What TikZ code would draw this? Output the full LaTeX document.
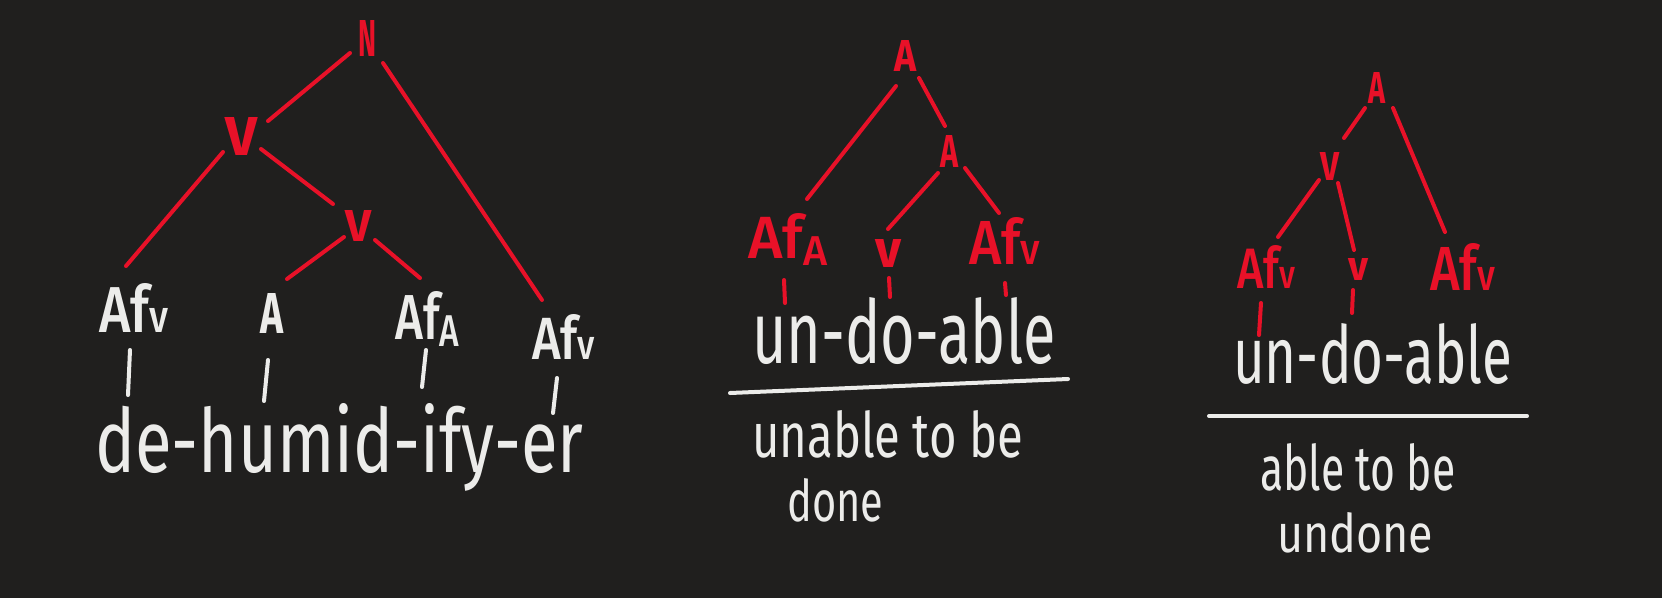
\documentclass[tikz,border=0pt]{standalone}
\usepackage{fontspec}
\usepackage{graphicx}
\setmainfont{Fira Sans}
\newfontfamily\medf{Fira Sans Medium}
\definecolor{bg}{RGB}{32,31,30}
\definecolor{rd}{RGB}{232,17,40}
\definecolor{wt}{RGB}{236,236,234}
\newcommand{\fb}[3]{\resizebox{#1pt}{#2pt}{#3}}
\newcommand{\sv}{{\scriptsize v}}
\newcommand{\sA}{\raisebox{-0.12em}{\scriptsize A}}
\begin{document}
\begin{tikzpicture}[x=1pt,y=-1pt,
  lab/.style={inner sep=0pt, anchor=base west},
  rlab/.style={lab, text=rd, font=\bfseries},
  rlabm/.style={lab, text=rd, font=\medf},
  wlab/.style={lab, text=wt, font=\bfseries},
  wlabm/.style={lab, text=wt, font=\medf},
  wtxt/.style={lab, text=wt},
  rl/.style={draw=rd, line width=4pt, line cap=round},
  wl/.style={draw=wt, line width=4pt, line cap=round}]
\fill[bg] (0,0) rectangle (1662,598);
\useasboundingbox (0,0) rectangle (1662,598);

% ---------- left tree ----------
\node[rlab] (N)   at (358,56)  {\fb{18}{36}{N}};
\node[rlab] (Vu)  at (225,155) {\fb{32}{38}{V}};
\node[rlab] (Vl)  at (345,241) {\fb{26}{31}{V}};
\node[wlabm] (Afl) at (99,332)  {\fb{69}{49}{Af\sv}};
\node[wlab] (Al)  at (260,333) {\fb{23}{40}{A}};
\node[wlabm] (AfAl) at (395,339) {\fb{64}{48}{Af\sA}};
\node[wlabm] (Afr) at (532,359) {\fb{63}{45}{Af\sv}};
\node[wtxt] (W1)  at (95,472)  {\fb{488}{69}{de-humid-ify-er}};

\draw[rl] ([shift={(-8,-3)}]N.base west) -- ([shift={(43,-34)}]Vu.base west);
\draw[rl] ([shift={(25,7)}]N.base west) -- ([shift={(10,-59)}]Afr.base west);
\draw[rl] ([shift={(-2,-3)}]Vu.base west) -- ([shift={(27,-66)}]Afl.base west);
\draw[rl] ([shift={(36,-6)}]Vu.base west) -- ([shift={(-12,-37)}]Vl.base west);
\draw[rl] ([shift={(-1,-4)}]Vl.base west) -- ([shift={(27,-54)}]Al.base west);
\draw[rl] ([shift={(30,-1)}]Vl.base west) -- ([shift={(25,-61)}]AfAl.base west);

\draw[wl] ([shift={(31,18)}]Afl.base west) -- ([shift={(33,-77)}]W1.base west);
\draw[wl] ([shift={(8,27)}]Al.base west) -- ([shift={(169,-71)}]W1.base west);
\draw[wl] ([shift={(31,11)}]AfAl.base west) -- ([shift={(327,-85)}]W1.base west);
\draw[wl] ([shift={(25,19)}]Afr.base west) -- ([shift={(458,-59)}]W1.base west);

% ---------- middle tree ----------
\node[rlab] (Atm)  at (894,71)  {\fb{22}{31}{A}};
\node[rlab] (Amm)  at (940,167) {\fb{18}{32}{A}};
\node[rlabm] (AfAm) at (748,258) {\fb{79}{45}{Af\sA}};
\node[rlab] (vm)   at (875,267) {\fb{26}{28}{v}};
\node[rlabm] (Afvm) at (969,264) {\fb{71}{47}{Af\sv}};
\node[wtxt] (W2)   at (752,363) {\fb{303}{66}{un-do-able}};
\node[wtxt] (M2a)  at (752,457) {\fb{271}{47}{unable to be}};
\node[wtxt] (M2b)  at (787,521) {\fb{96}{43}{done}};

\draw[rl] ([shift={(2,15)}]Atm.base west) -- ([shift={(59,-59)}]AfAm.base west);
\draw[rl] ([shift={(25,7)}]Atm.base west) -- ([shift={(5,-41)}]Amm.base west);
\draw[rl] ([shift={(-2,6)}]Amm.base west) -- ([shift={(13,-38)}]vm.base west);
\draw[rl] ([shift={(25,1)}]Amm.base west) -- ([shift={(30,-51)}]Afvm.base west);

\draw[rl] ([shift={(36,22)}]AfAm.base west) -- ([shift={(33,-60)}]W2.base west);
\draw[rl] ([shift={(14,11)}]vm.base west) -- ([shift={(138,-66)}]W2.base west);
\draw[rl] ([shift={(36,19)}]Afvm.base west) -- ([shift={(254,-68)}]W2.base west);

\draw[wl] (730,393) -- (1068,379);

% ---------- right tree ----------
\node[rlab] (Atr)   at (1368,103) {\fb{17}{31}{A}};
\node[rlab] (Vr)    at (1320,180) {\fb{19}{28}{V}};
\node[rlabm] (Afvr1) at (1237,288) {\fb{58}{43}{Af\sv}};
\node[rlab] (vr)    at (1348,280) {\fb{20}{22}{v}};
\node[rlabm] (Afvr2) at (1430,290) {\fb{65}{47}{Af\sv}};
\node[wtxt] (W3)    at (1233,383) {\fb{279}{60}{un-do-able}};
\node[wtxt] (M3a)   at (1260,490) {\fb{195}{47}{able to be}};
\node[wtxt] (M3b)   at (1277,552) {\fb{156}{40}{undone}};

\draw[rl] ([shift={(-3,5)}]Atr.base west) -- ([shift={(24,-42)}]Vr.base west);
\draw[rl] ([shift={(25,5)}]Atr.base west) -- ([shift={(15,-58)}]Afvr2.base west);
\draw[rl] ([shift={(-1,0)}]Vr.base west) -- ([shift={(41,-51)}]Afvr1.base west);
\draw[rl] ([shift={(18,3)}]Vr.base west) -- ([shift={(6,-30)}]vr.base west);

\draw[rl] ([shift={(24,15)}]Afvr1.base west) -- ([shift={(26,-48)}]W3.base west);
\draw[rl] ([shift={(5,10)}]vr.base west) -- ([shift={(119,-70)}]W3.base west);

\draw[wl] (1209,416) -- (1527,416);
\end{tikzpicture}
\end{document}
